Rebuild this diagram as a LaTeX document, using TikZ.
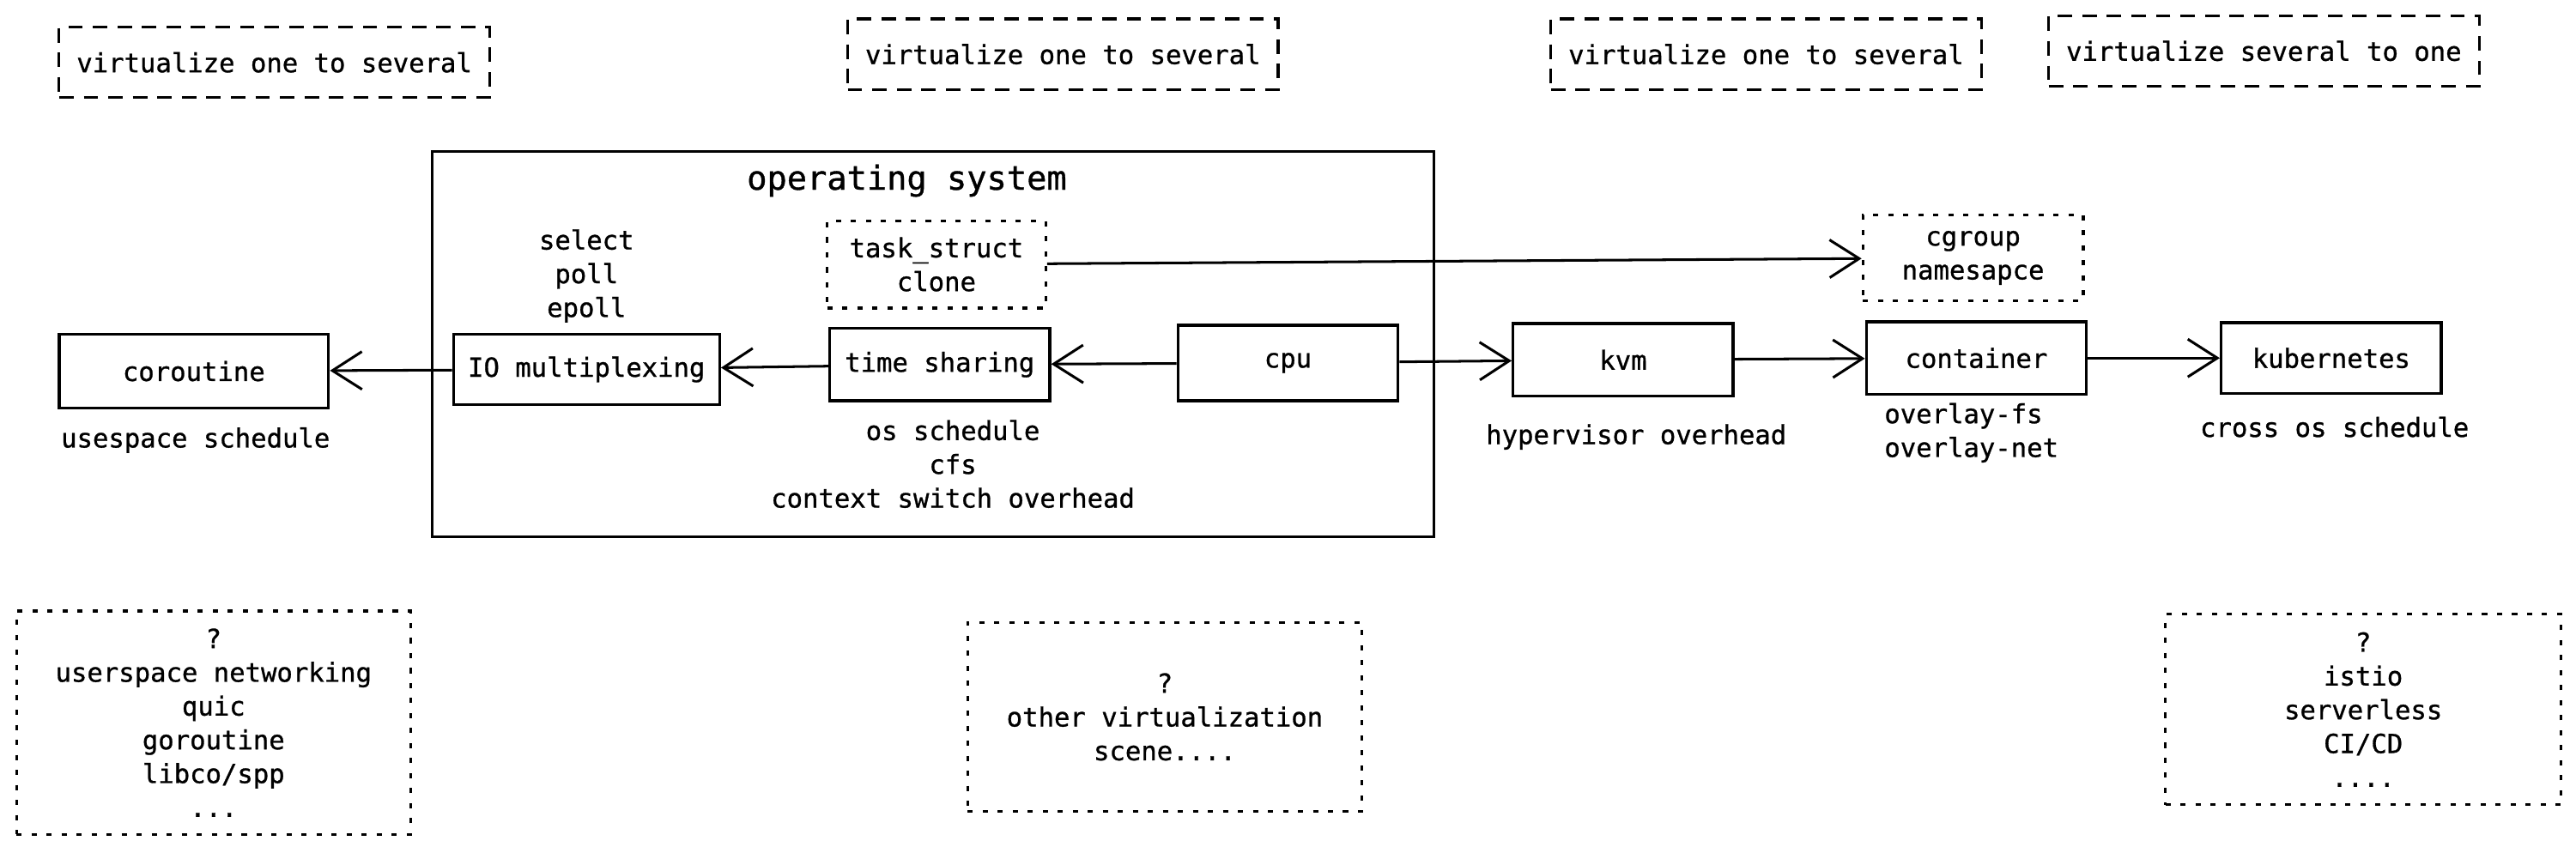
\documentclass[tikz,border=0pt]{standalone}
\usepackage{fontspec}
\setmonofont[FakeBold=0.9]{DejaVu Sans Mono}
\usetikzlibrary{arrows.meta}

\begin{document}
\begin{tikzpicture}[x=0.02cm, y=-0.02cm,
      every node/.style={font=\ttfamily\fontsize{9.1}{11.7}\selectfont, align=center},
      block/.style={draw, line width=1pt, minimum width=2.68cm, minimum height=.88cm},
      note/.style={draw, line width=1pt, dash pattern=on 1.8pt off 3.4pt},
      hint/.style={draw, line width=.9pt, dash pattern=on 5pt off 3.5pt,
        minimum width=5.24cm, minimum height=.86cm},
      arrow/.style={-{Straight Barb[length=3.6mm, width=4.6mm]}, line width=.9pt}
    ]
      \useasboundingbox (0,0) rectangle (1568,519);

      % top hints
      \node[hint] (hintco) at (167,38) {virtualize one to several};
      \node[hint] (hintos) at (647,33) {virtualize one to several};
      \node[hint] (hintvm) at (1075,33) {virtualize one to several};
      \node[hint] (hintk8s) at (1378,31) {virtualize several to one};

      % operating system frame
      \node[draw, line width=.9pt, minimum width=12.2cm, minimum height=4.7cm] (os) at (568,209.5) {};
      \node[font=\ttfamily\fontsize{11.5}{14}\selectfont] (ostitle) at (552,110) {operating system};

      % main row
      \node[block, minimum width=3.28cm, minimum height=.9cm] (coroutine) at (118,226) {coroutine};
      \node[block, minimum width=3.24cm, minimum height=.86cm] (iomux) at (357,225) {IO multiplexing};
      \node[block] (timeshare) at (572,222) {time sharing};
      \node[block, minimum height=.92cm] (cpu) at (784,221) {cpu};
      \node[block] (kvm) at (988,219) {kvm};
      \node[block] (container) at (1203,218) {container};
      \node[block, minimum height=.86cm] (k8s) at (1419,218) {kubernetes};

      % dotted notes
      \node[note, minimum width=2.66cm, minimum height=1.06cm] (task) at (570,161) {task\_struct\\clone};
      \node[note, minimum width=2.68cm, minimum height=1.04cm] (cgroup) at (1201,157) {cgroup\\namesapce};

      % labels
      \node (iolbl) at (357,168) {select\\poll\\epoll};
      \node (colbl) at (119,268) {usespace schedule};
      \node (tslbl) at (580,282.5) {os schedule\\cfs\\context switch overhead};
      \node (kvmlbl) at (996,266) {hypervisor overhead};
      \node[align=left] (ctlbl) at (1200,263.5) {overlay-fs\\overlay-net};
      \node (k8slbl) at (1421,260) {cross os schedule};

      % bottom open questions
      \node[note, minimum width=4.8cm, minimum height=2.72cm] (qco) at (130,440)
        {?\\userspace networking\\quic\\goroutine\\libco/spp\\...};
      \node[note, minimum width=4.8cm, minimum height=2.3cm] (qos) at (709,436.5)
        {?\\other virtualization\\scene....};
      \node[note, minimum width=4.82cm, minimum height=2.32cm] (qk8s) at (1438.5,432)
        {?\\istio\\serverless\\CI/CD\\....};

      % connectors
      \draw[arrow] (iomux) -- (coroutine);
      \draw[arrow] (timeshare) -- (iomux);
      \draw[arrow] (cpu) -- (timeshare);
      \draw[arrow] (cpu) -- (kvm);
      \draw[arrow] (kvm) -- (container);
      \draw[arrow] (container) -- (k8s);
      \draw[arrow] (task) -- (cgroup);
    \end{tikzpicture}
\end{document}
